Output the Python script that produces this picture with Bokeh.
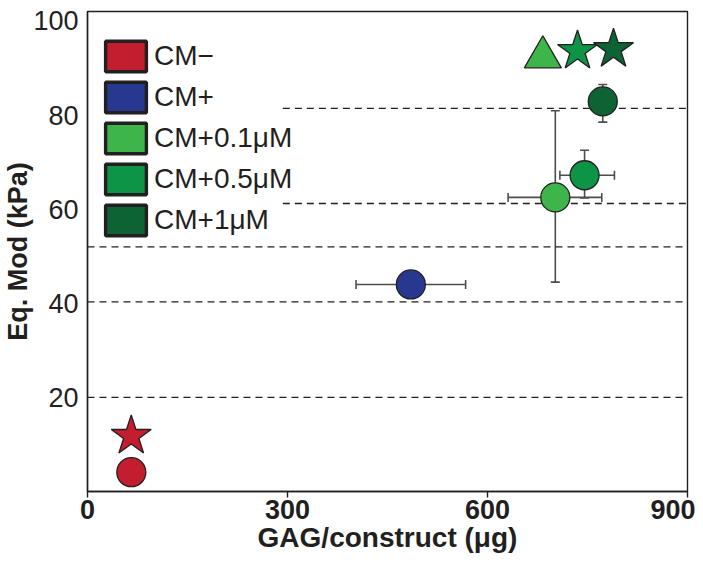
from bokeh.plotting import figure
from bokeh.models import (Range1d, FixedTicker, Whisker, TeeHead, ColumnDataSource,
                          Legend, LegendItem)
from bokeh.embed import file_html
from bokeh.resources import INLINE

# ---------------- data ----------------
groups = ["CM\u2212", "CM+", "CM+0.1\u03bcM", "CM+0.5\u03bcM", "CM+1\u03bcM"]
colors = ["#C21E2F", "#283891", "#3DB54A", "#0E9447", "#0D6334"]

# circles (GAG vs Eq. Mod)
circle_x = [65.7, 485.0, 701.7, 745.6, 772.9]
circle_y = [4.1, 44.0, 62.5, 67.2, 82.9]

# horizontal error bars (CM+, CM+0.1, CM+0.5)
xerr_idx = [1, 2, 3]
xerr_lower = [402.8, 630.9, 708.6]
xerr_upper = [567.2, 771.4, 790.4]

# vertical error bars (CM+0.1, CM+0.5, CM+1)
yerr_idx = [2, 3, 4]
yerr_lower = [44.5, 62.4, 78.5]
yerr_upper = [80.9, 72.5, 86.5]

# second marker set
mark_idx = [0, 2, 3, 4]
mark_x = [65.6, 683.0, 735.0, 789.0]
mark_y = [11.8, 92.3, 93.6, 94.0]
mark_shape = ["star", "triangle", "star", "star"]

# dashed reference lines
ref_y = [20.0, 40.3, 52.0, 61.2, 81.4]
ref_x0 = [0, 0, 0, 293, 293]
ref_x1 = [900, 900, 900, 900, 900]

x_ticks = [0, 300, 600, 900]
y_ticks = [20, 40, 60, 80, 100]

DARK = "#231F20"
GREY = "#4D4D4D"
NAN = float("nan")

p = figure(width=695, height=561, x_range=Range1d(0, 900), y_range=Range1d(0, 102),
           output_backend="svg", toolbar_location=None,
           min_border_left=87, min_border_right=8, min_border_top=11, min_border_bottom=70)

p.xgrid.visible = False
p.ygrid.visible = False
p.outline_line_color = DARK
p.outline_line_width = 1.4
p.background_fill_color = "white"
p.border_fill_color = "white"

# axes
p.xaxis.ticker = FixedTicker(ticks=x_ticks)
p.yaxis.ticker = FixedTicker(ticks=y_ticks)
for ax in (p.xaxis[0], p.yaxis[0]):
    ax.axis_line_color = DARK
    ax.axis_line_width = 1.4
    ax.minor_tick_line_color = None
    ax.major_tick_line_color = DARK
    ax.major_tick_line_width = 1.4

p.xaxis.major_tick_out = 6
p.xaxis.major_tick_in = 0
p.xaxis.major_label_standoff = 2
p.xaxis.major_label_text_font = "Liberation Sans"
p.xaxis.major_label_text_font_style = "bold"
p.xaxis.major_label_text_font_size = "27px"
p.xaxis.major_label_text_color = DARK
p.xaxis.axis_label = "GAG/construct (\u03bcg)"
p.xaxis.axis_label_text_font = "Liberation Sans"
p.xaxis.axis_label_text_font_style = "bold"
p.xaxis.axis_label_text_font_size = "28px"
p.xaxis.axis_label_text_color = DARK
p.xaxis.axis_label_standoff = 0

p.yaxis.major_tick_out = 0
p.yaxis.major_tick_in = 0
p.yaxis.major_label_standoff = 9
p.yaxis.major_label_text_font = "Liberation Sans"
p.yaxis.major_label_text_font_size = "27px"
p.yaxis.major_label_text_color = DARK
p.yaxis.axis_label = "Eq. Mod (kPa)"
p.yaxis.axis_label_text_font = "Liberation Sans"
p.yaxis.axis_label_text_font_style = "bold"
p.yaxis.axis_label_text_font_size = "27px"
p.yaxis.axis_label_text_color = DARK
p.yaxis.axis_label_standoff = -3

# dashed reference lines
p.segment(x0=ref_x0, x1=ref_x1, y0=ref_y, y1=ref_y, line_color=DARK,
          line_width=1.3, line_dash="7 5")

# error bars
xsrc = ColumnDataSource(dict(base=[circle_y[i] for i in xerr_idx],
                             lower=xerr_lower, upper=xerr_upper))
ysrc = ColumnDataSource(dict(base=[circle_x[i] for i in yerr_idx],
                             lower=yerr_lower, upper=yerr_upper))
for src, dim in ((xsrc, "width"), (ysrc, "height")):
    w = Whisker(source=src, base="base", lower="lower", upper="upper", dimension=dim,
                line_color=GREY, line_width=1.6,
                lower_head=TeeHead(size=9, line_color=GREY, line_width=1.6),
                upper_head=TeeHead(size=9, line_color=GREY, line_width=1.6))
    p.add_layout(w)

# circles
csrc = ColumnDataSource(dict(x=circle_x, y=circle_y, c=colors))
p.scatter("x", "y", source=csrc, marker="circle", size=29, fill_color="c",
          line_color=DARK, line_width=1.3)

# second markers
msrc = ColumnDataSource(dict(x=mark_x, y=mark_y, m=mark_shape,
                             c=[colors[i] for i in mark_idx],
                             s=[42 if m == "star" else 37 for m in mark_shape]))
p.scatter("x", "y", source=msrc, marker="m", size="s", fill_color="c",
          line_color=DARK, line_width=1.3)

# legend (square swatches)
items = []
for g, c in zip(groups, colors):
    r = p.rect(x=[NAN], y=[NAN], width=1, height=1, fill_color=c, line_color=DARK,
               line_width=3.4)
    items.append(LegendItem(label=g, renderers=[r], index=0))

legend = Legend(items=items, location=(13, 252), glyph_width=51, glyph_height=38,
                spacing=3, padding=0, margin=0, label_standoff=3,
                label_text_font="Liberation Sans", label_text_font_size="28px",
                label_text_color=DARK, border_line_color=None,
                background_fill_alpha=0)
p.add_layout(legend)

open("out.html", "w").write(file_html(p, INLINE))
